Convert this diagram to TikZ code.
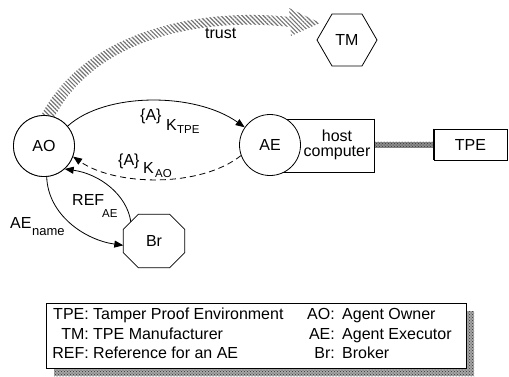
\documentclass[tikz,border=0pt]{standalone}
\usepackage{fontspec}
\setmainfont{Liberation Sans}
\usetikzlibrary{arrows.meta,patterns,patterns.meta,calc,shapes.geometric}
\begin{document}
\begin{tikzpicture}[x=1pt,y=-1pt,
  every node/.style={font=\fontsize{16}{19}\selectfont, inner sep=0pt},
  ent/.style={circle, draw, fill=white, line width=0.8pt, minimum size=61pt},
  box/.style={rectangle, draw, fill=white, line width=0.8pt},
  hexa/.style={regular polygon, regular polygon sides=6, draw, line width=0.8pt, minimum size=60pt},
  subs/.style={font=\fontsize{11.5}{13}\selectfont, anchor=base west},
  lbl/.style={anchor=base west},
  lkey/.style={anchor=base east},
  conn/.style={line width=0.8pt, -{Triangle[length=9pt,width=7pt]}},
  hatch/.style={pattern={Lines[angle=135,distance=3pt,line width=1.2pt]}, pattern color=black!55},
  shade/.style={pattern=crosshatch dots, pattern color=black!80}
]
\useasboundingbox (0,0) rectangle (509,376);

% trust band
\node[ent] (AO) at (44,146) {AO};
\path[hatch] (AO.95) .. controls (84,32) and (198,7) .. (290,17)
  -- (290,27) .. controls (202,17) and (96,38) .. (AO.70) -- cycle;
\path[hatch] (289,8) -- (320,23) -- (291,36) -- cycle;
\node[lbl] (trust) at (205,38) {trust};
\node[ent] (AO2) at (44,146) {AO};

\node[hexa] (TM) at (347,40) {TM};

% host and TPE
\node[box, minimum width=104pt, minimum height=53pt] (host) at (322,145.5) {};
\node[anchor=base] (hostA) at (337,141) {host};
\node[anchor=base] (hostB) at (337,156) {computer};
\node[box, minimum width=73pt, minimum height=31pt] (TPE) at (470.5,144.5) {TPE};
\path[fill=black!45] (host.east |- 0,141.5) rectangle (TPE.west |- 0,147.5);
\path[shade] (host.east |- 0,141.5) rectangle (TPE.west |- 0,147.5);
\draw[line width=0.8pt] (host.north east) -- (host.south east);
\draw[line width=0.8pt] (TPE.north west) -- (TPE.south west);
\node[ent] (AE) at (270,145) {AE};

% broker
\node[minimum width=61pt, minimum height=53pt] (Br) at (154,241) {Br};
\draw[line width=0.8pt]
  ($(Br.north west)+(15,0)$) -- ($(Br.north east)+(-15,0)$) -- ($(Br.north east)+(0,15)$)
  -- ($(Br.south east)+(0,-15)$) -- ($(Br.south east)+(-15,0)$) -- ($(Br.south west)+(15,0)$)
  -- ($(Br.south west)+(0,-15)$) -- ($(Br.north west)+(0,15)$) -- cycle;

% connectors
\draw[conn] (AO2.40) .. controls (105,92) and (195,92) .. (AE.145);
\draw[conn, dash pattern=on 6pt off 4pt] (AE.200) .. controls (200,188) and (115,186) .. (AO2.-20);
\draw[conn] (AO2.-85) .. controls (48,215) and (85,240) .. (Br.188);
\draw[conn] ($(Br.north west)+(7.5,7.5)$) .. controls (127,195) and (100,174) .. (AO2.-48);

% labels
\node[lbl] (a1) at (140,120) {\{A\}};
\node[lbl] (k1) at (166,130) {K};
\node[subs] (t1) at (177,133) {TPE};
\node[lbl] (a2) at (118,165) {\{A\}};
\node[lbl] (k2) at (143,173) {K};
\node[subs] (t2) at (155,177) {AO};
\node[lbl] (r1) at (72,205) {REF};
\node[subs] (r2) at (102,217) {AE};
\node[lbl] (n1) at (10,228) {AE};
\node[subs, font=\fontsize{13}{15}\selectfont] (n2) at (32,235) {name};

% legend
\path[fill=black!35] (54,311) rectangle (474,376);
\path[shade] (54,311) rectangle (474,376);
\node[box, minimum width=420pt, minimum height=65pt] (legend) at (256,335.5) {};
\node[lkey] (k1a) at (89,319) {TPE:};
\node[lbl] (k1b) at (93,319) {Tamper Proof Environment};
\node[lkey] (k2a) at (89,339) {TM:};
\node[lbl] (k2b) at (93,339) {TPE Manufacturer};
\node[lkey] (k3a) at (89,358) {REF:};
\node[lbl] (k3b) at (93,358) {Reference for an AE};
\node[lkey] (k4a) at (335,319) {AO:};
\node[lbl] (k4b) at (342,319) {Agent Owner};
\node[lkey] (k5a) at (335,339) {AE:};
\node[lbl] (k5b) at (342,339) {Agent Executor};
\node[lkey] (k6a) at (335,358) {Br:};
\node[lbl] (k6b) at (342,358) {Broker};
\end{tikzpicture}
\end{document}
